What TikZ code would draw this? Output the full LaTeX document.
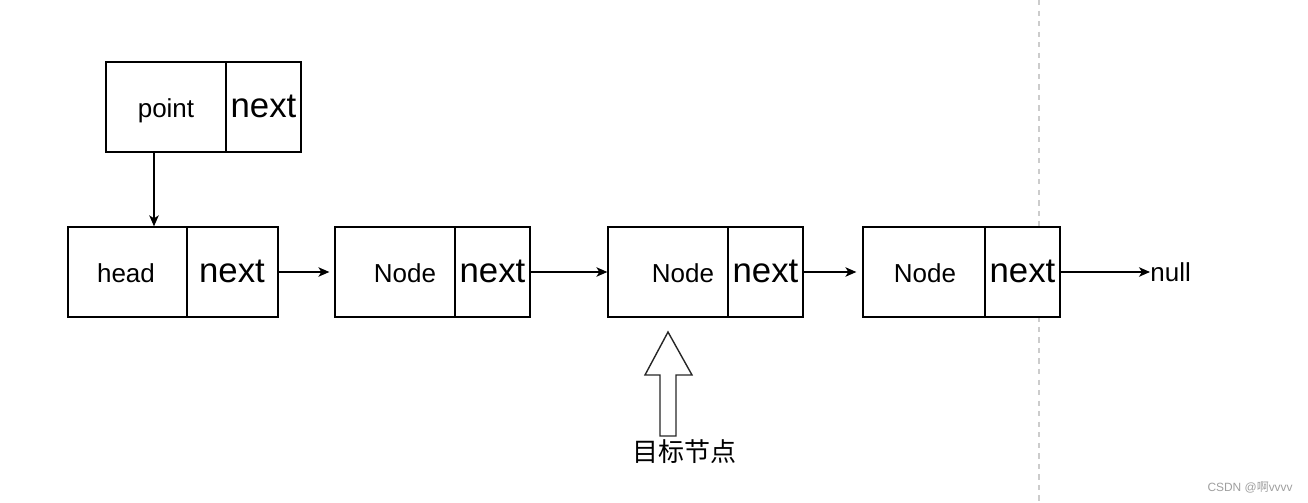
\documentclass[tikz,border=0pt]{standalone}
\usepackage{fontspec}
\setmainfont{Liberation Sans}
\newfontfamily\cjkfont{Noto Sans CJK SC}
\usetikzlibrary{arrows.meta}

\tikzset{
  cell/.style={draw, fill=white, line width=0.75pt, minimum height=1.8cm, inner sep=0pt},
  txt/.style={inner sep=0pt, font=\fontsize{14.8}{17}\selectfont},
  nxt/.style={inner sep=0pt, font=\fontsize{19.8}{23}\selectfont},
  link/.style={line width=0.75pt, -{Stealth[length=0.22cm,width=0.19cm,inset=0.06cm]}},
}

\begin{document}
\begin{tikzpicture}[x=0.02cm, y=-0.02cm]
\useasboundingbox (0,0) rectangle (1308,503);
% dashed separator
\draw[gray!40, line width=0.6pt, dash pattern=on 3pt off 3pt] (1039,0) -- (1039,503);

% point
\node[cell, minimum width=2.4cm] (pointv) at (166,107) {};
\node[cell, minimum width=1.5cm] (pointn) at (263.5,107) {};
\node[txt] (pointt) at (166,111) {point};
\node[nxt] (pointx) at (263.5,106) {next};

% head
\node[cell, minimum width=2.38cm] (headv) at (127.5,272) {};
\node[cell, minimum width=1.82cm] (headn) at (232.5,272) {};
\node[txt] (headt) at (126,273.5) {head};
\node[nxt] (headx) at (232,271) {next};

% nodes
\node[cell, minimum width=2.4cm] (n1v) at (395,272) {};
\node[cell, minimum width=1.5cm] (n1n) at (492.5,272) {};
\node[txt] (n1t) at (405,273.5) {Node};
\node[nxt] (n1x) at (492.5,271) {next};

\node[cell, minimum width=2.4cm] (n2v) at (668,272) {};
\node[cell, minimum width=1.5cm] (n2n) at (765.5,272) {};
\node[txt] (n2t) at (683,273.5) {Node};
\node[nxt] (n2x) at (765.5,271) {next};

\node[cell, minimum width=2.44cm] (n3v) at (924,272) {};
\node[cell, minimum width=1.5cm] (n3n) at (1022.5,272) {};
\node[txt] (n3t) at (925,273.5) {Node};
\node[nxt] (n3x) at (1022.5,271) {next};

\node[txt, anchor=west] (null) at (1150,272) {null};

% links
\draw[link] ([xshift=-0.24cm]pointv.south) -- ([xshift=-0.24cm]pointv.south |- headv.north);
\draw[link, shorten >=0.1cm] (headn.east) -- (n1v.west);
\draw[link] (n1n.east) -- (n2v.west);
\draw[link, shorten >=0.12cm] (n2n.east) -- (n3v.west);
\draw[link] (n3n.east) -- (n3n.east -| null.west);

% target marker
\draw[line width=0.8pt, black!85] (668,332) -- (692,375) -- (676,375) -- (676,436)
  -- (660,436) -- (660,375) -- (645,375) -- cycle;
\node[inner sep=0pt, font=\cjkfont\fontsize{14.8}{17}\selectfont] (goal) at (684,452) {目标节点};

% watermark
\node[inner sep=0pt, anchor=east, text=gray!75, font=\fontsize{6.8}{8}\selectfont] (mark) at (1293,488)
  {CSDN @{\cjkfont 啊}vvvv};
\end{tikzpicture}
\end{document}
